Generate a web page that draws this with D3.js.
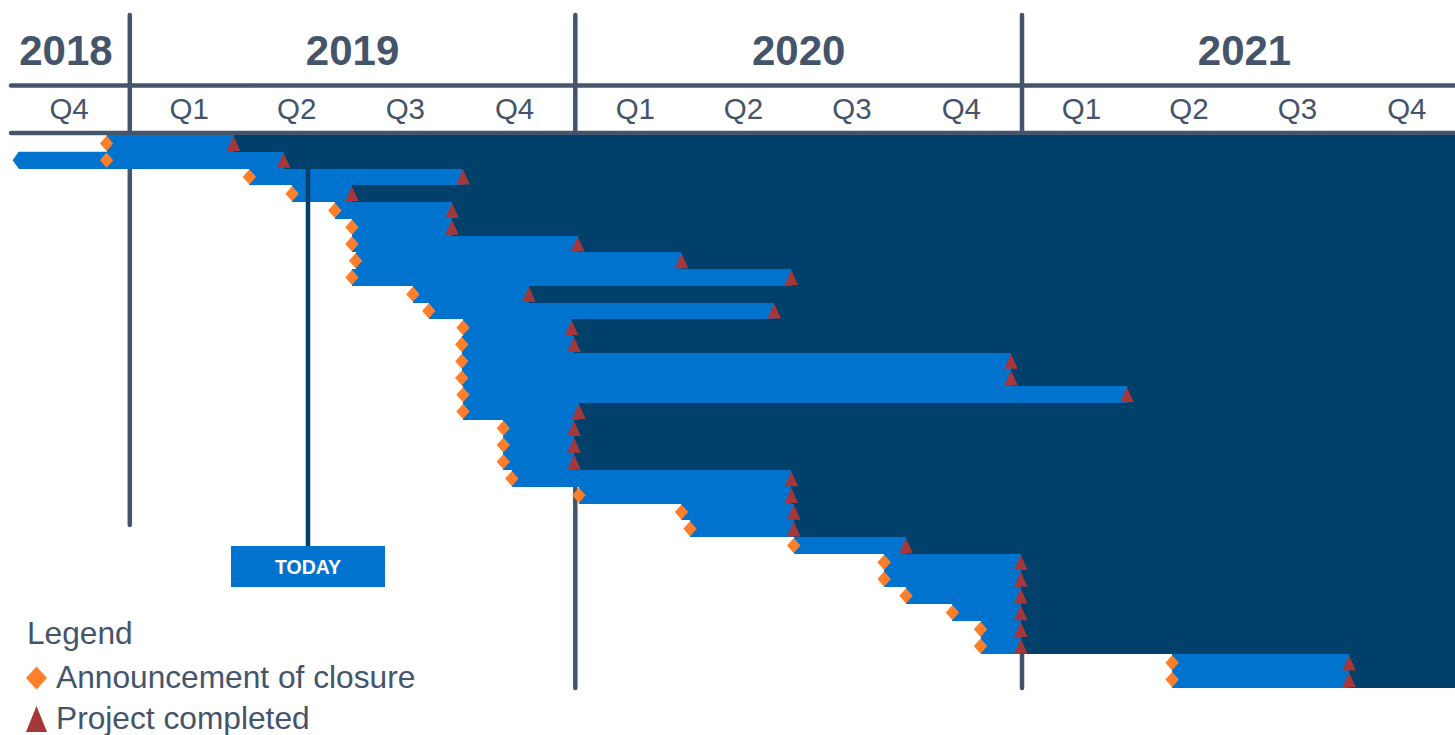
<!DOCTYPE html>
<html>
<head>
<meta charset="utf-8">
<title>Closure projects timeline</title>
<script src="https://cdn.jsdelivr.net/npm/d3@7/dist/d3.min.js"></script>
<style>
  body { margin: 0; background: #fff; overflow: hidden; }
  svg { display: block; font-family: "Liberation Sans", Arial, sans-serif; }
</style>
</head>
<body>
<svg id="chart" width="1455" height="735"></svg>
<script>
// one entry per row, top to bottom
const announced = [
  "2018-12-13", "2018-12-13", "2019-04-09", "2019-05-14", "2019-06-18",
  "2019-07-02", "2019-07-02", "2019-07-05", "2019-07-02", "2019-08-21",
  "2019-09-03", "2019-10-01", "2019-09-30", "2019-09-30", "2019-09-30",
  "2019-10-01", "2019-10-01", "2019-11-03", "2019-11-03", "2019-11-03",
  "2019-11-10", "2020-01-04", "2020-03-28", "2020-04-04", "2020-06-28",
  "2020-09-10", "2020-09-10", "2020-09-28", "2020-11-05", "2020-11-28",
  "2020-11-28", "2021-05-04", "2021-05-04"
];
const completed = [
  "2019-03-27", "2019-05-07", "2019-10-01", "2019-07-02", "2019-09-22",
  "2019-09-22", "2020-01-03", "2020-03-28", "2020-06-26", "2019-11-24",
  "2020-06-12", "2019-12-29", "2019-12-31", "2020-12-23", "2020-12-23",
  "2021-03-28", "2020-01-04", "2019-12-31", "2019-12-31", "2019-12-31",
  "2020-06-26", "2020-06-26", "2020-06-28", "2020-06-28", "2020-09-28",
  "2020-12-31", "2020-12-31", "2020-12-31", "2020-12-31", "2020-12-31",
  "2020-12-31", "2021-09-26", "2021-09-26"
];
// the second row was already running before the window opens
const earlyStart = { row: 1, date: "2018-09-27" };

const years = ["2018", "2019", "2020", "2021"];
const quarters = ["Q1", "Q2", "Q3", "Q4"];
const today = "2019-05-27";

const legendItems = ["Announcement of closure", "Project completed"];

const grey = "#44546a", blue = "#0073cf", navy = "#00406b",
      orange = "#fd7f2c", red = "#a5373a";

const W = 1455;
const parse = d3.timeParse("%Y-%m-%d");
const svg = d3.select("#chart");

const x = d3.scaleTime()
  .domain([new Date(2018, 9, 1), new Date(2022, 0, 1)])
  .range([17.5, 1467.5]);
const rows = d3.range(announced.length);
const y = d3.scaleBand().domain(rows).range([135, 688]);
const bh = y.bandwidth();

// header rules
svg.append("g").selectAll("line")
  .data([85.5, 133])
  .join("line")
    .attr("x1", 11).attr("x2", W + 10)
    .attr("y1", d => d).attr("y2", d => d)
    .attr("stroke", grey).attr("stroke-width", 4.5)
    .attr("stroke-linecap", "round");

// year dividers (drawn first so bars sit over them)
const yearStarts = years.slice(1).map(yr => new Date(+yr, 0, 1));
const dividerBottom = [525, 688, 688];
svg.append("g").selectAll("line")
  .data(yearStarts)
  .join("line")
    .attr("x1", d => x(d)).attr("x2", d => x(d))
    .attr("y1", 15).attr("y2", (d, i) => dividerBottom[i])
    .attr("stroke", grey).attr("stroke-width", 4.5)
    .attr("stroke-linecap", "round");

// year labels
svg.append("g").selectAll("text")
  .data(years)
  .join("text")
    .attr("x", d => {
      const a = Math.max(x(new Date(+d, 0, 1)), 10);
      const b = Math.min(x(new Date(+d + 1, 0, 1)), W + 12);
      return (a + b) / 2 - (d === "2018" ? 4 : 0);
    })
    .attr("y", 65)
    .attr("text-anchor", "middle")
    .attr("font-size", 42).attr("font-weight", "bold")
    .attr("fill", grey)
    .text(d => d);

// quarter labels
const qTicks = [];
years.forEach(yr => quarters.forEach((q, i) => {
  const s = new Date(+yr, i * 3, 1), e = new Date(+yr, i * 3 + 3, 1);
  if (s >= x.domain()[0]) qTicks.push({ q, mid: new Date((+s + +e) / 2), yr });
}));
svg.append("g").selectAll("text")
  .data(qTicks)
  .join("text")
    .attr("x", d => {
      const yc = x(new Date(+d.yr, 6, 1));
      return yc + (x(d.mid) - yc) * 0.973;
    })
    .attr("y", 119)
    .attr("text-anchor", "middle")
    .attr("font-size", 29.5)
    .attr("fill", grey)
    .text(d => d.q);

// bars
const barG = svg.append("g").attr("shape-rendering", "crispEdges");
rows.forEach(i => {
  const xa = x(parse(announced[i])), xc = x(parse(completed[i])), top = y(i);
  if (i === earlyStart.row) {
    const x0 = x(parse(earlyStart.date));
    svg.insert("path", "g + g + g + g")
      .attr("d", `M${x0},${top + bh / 2} L${x0 + 6},${top} L${xc},${top} L${xc},${top + bh} L${x0 + 6},${top + bh} Z`)
      .attr("fill", blue);
    barG.append("rect")
      .attr("x", x0 + 6).attr("y", top)
      .attr("width", xc - x0 - 6).attr("height", bh)
      .attr("fill", blue);
  } else {
    barG.append("rect")
      .attr("x", xa).attr("y", top)
      .attr("width", xc - xa).attr("height", bh)
      .attr("fill", blue);
  }
  barG.append("rect")
    .attr("x", xc).attr("y", top)
    .attr("width", W - xc).attr("height", bh)
    .attr("fill", navy);
});

// today marker
const xt = x(parse(today));
svg.append("line")
  .attr("x1", xt).attr("x2", xt)
  .attr("y1", 168).attr("y2", 547)
  .attr("stroke", navy).attr("stroke-width", 4.5);
svg.append("rect")
  .attr("x", xt - 77).attr("y", 546)
  .attr("width", 154).attr("height", 41)
  .attr("fill", blue);
svg.append("text")
  .attr("x", xt).attr("y", 574)
  .attr("text-anchor", "middle")
  .attr("font-size", 19.5).attr("font-weight", "bold")
  .attr("fill", "#fff")
  .text("TODAY");

// markers
const diamond = (cx, cy, w, h) => `M${cx},${cy - h} L${cx + w},${cy} L${cx},${cy + h} L${cx - w},${cy} Z`;
const triangle = (cx, top, w, h) => `M${cx},${top} L${cx + w},${top + h} L${cx - w},${top + h} Z`;

svg.append("g").selectAll("path")
  .data(rows)
  .join("path")
    .attr("d", i => triangle(x(parse(completed[i])), y(i) + 1, 6.8, 15))
    .attr("fill", red);

svg.append("g").selectAll("path")
  .data(rows)
  .join("path")
    .attr("d", i => diamond(x(parse(announced[i])), y(i) + bh / 2, 6.7, 7.6))
    .attr("fill", orange);

// legend
const lg = svg.append("g");
lg.append("text")
  .attr("x", 27).attr("y", 644)
  .attr("font-size", 31.7).attr("fill", grey)
  .text("Legend");
lg.append("path").attr("d", diamond(36.5, 678, 10.5, 11.5)).attr("fill", orange);
lg.append("path").attr("d", triangle(36.5, 706, 10.5, 26)).attr("fill", red);
lg.selectAll("text.item")
  .data(legendItems)
  .join("text")
    .attr("class", "item")
    .attr("x", 56).attr("y", (d, i) => 688 + i * 41)
    .attr("font-size", 31.7).attr("fill", grey)
    .text(d => d);
</script>
</body>
</html>
